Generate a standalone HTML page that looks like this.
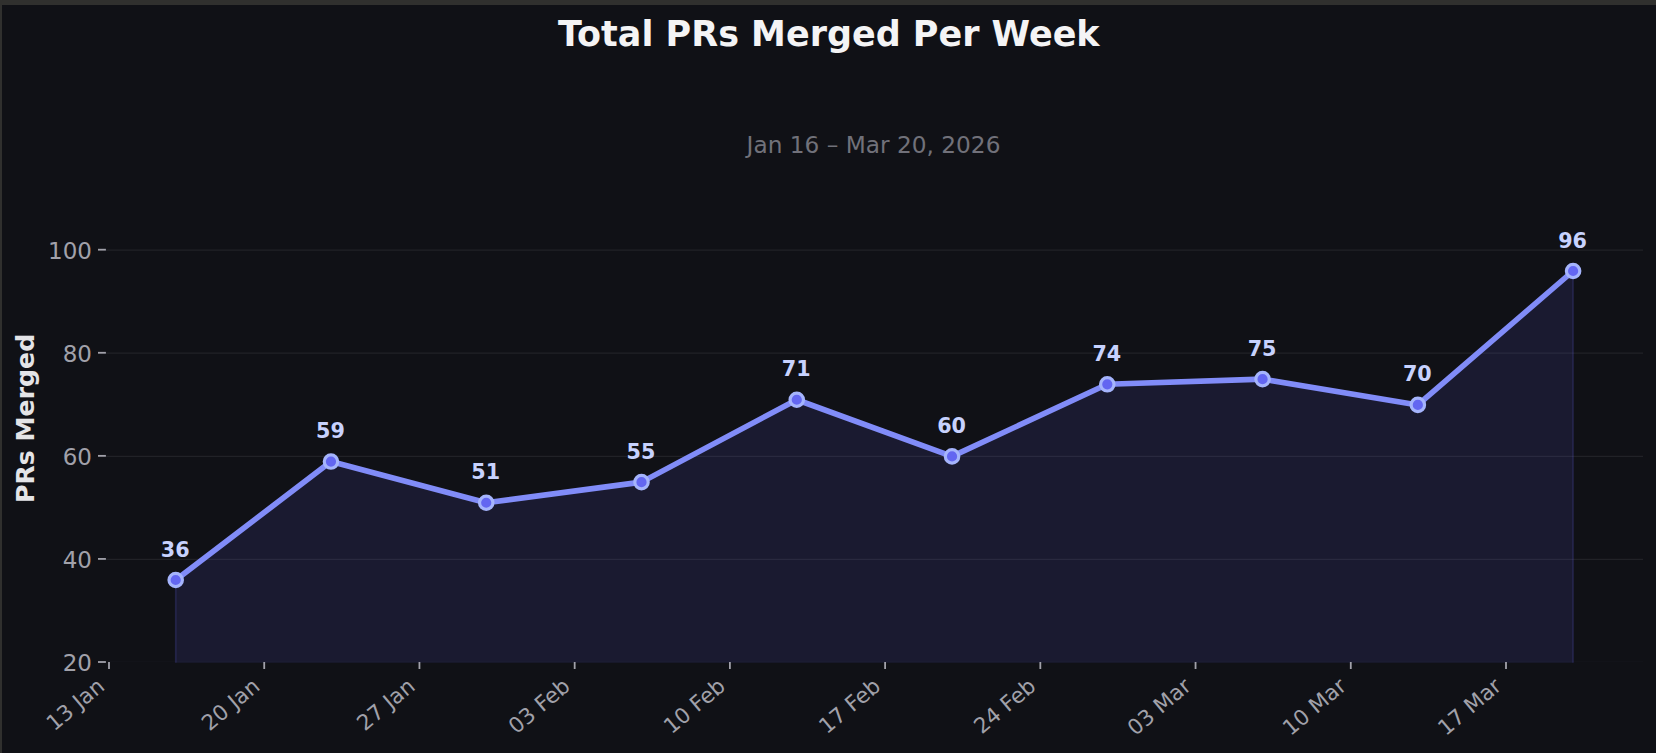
<!DOCTYPE html>
<html lang="en"><head><meta charset="utf-8"><title>Total PRs Merged Per Week</title>
<style>
html,body{margin:0;padding:0;background:#101116;overflow:hidden}
body{width:1656px;height:753px;position:relative}
svg{position:absolute;left:0;top:0;display:block}
text{font-family:"DejaVu Sans","Liberation Sans",sans-serif}
.b{font-weight:bold}
</style></head><body>
<svg width="1656" height="753" viewBox="0 0 1656 753">
<rect x="0" y="0" width="1656" height="753" fill="#101116"/>

<g stroke="#212227" stroke-width="1.2">
<line x1="105.8" x2="1643.0" y1="559.38" y2="559.38"/>
<line x1="105.8" x2="1643.0" y1="456.30" y2="456.30"/>
<line x1="105.8" x2="1643.0" y1="353.22" y2="353.22"/>
<line x1="105.8" x2="1643.0" y1="250.15" y2="250.15"/>
</g>
<rect x="105.8" y="661.10" width="1537.2" height="0.9" fill="#212227" opacity="0.22"/>
<polygon points="175.70,662.80 175.70,580.00 330.97,461.55 486.23,502.75 641.50,482.15 796.77,399.75 952.04,456.40 1107.30,384.30 1262.57,379.15 1417.84,404.90 1573.10,271.00 1573.10,662.80" fill="#6366f1" fill-opacity="0.12"/>
<path d="M175.70,662.80V580.00M1573.10,662.80V271.00" fill="none" stroke="#6366f1" stroke-opacity="0.2" stroke-width="1.6"/>
<polyline points="175.70,580.00 330.97,461.55 486.23,502.75 641.50,482.15 796.77,399.75 952.04,456.40 1107.30,384.30 1262.57,379.15 1417.84,404.90 1573.10,271.00" fill="none" stroke="#818cf8" stroke-width="5.6" stroke-linejoin="round" stroke-linecap="round"/>
<g fill="#6366f1" stroke="#a5b4fc" stroke-width="3.2">
<circle cx="175.70" cy="580.00" r="6.7"/>
<circle cx="330.97" cy="461.55" r="6.7"/>
<circle cx="486.23" cy="502.75" r="6.7"/>
<circle cx="641.50" cy="482.15" r="6.7"/>
<circle cx="796.77" cy="399.75" r="6.7"/>
<circle cx="952.04" cy="456.40" r="6.7"/>
<circle cx="1107.30" cy="384.30" r="6.7"/>
<circle cx="1262.57" cy="379.15" r="6.7"/>
<circle cx="1417.84" cy="404.90" r="6.7"/>
<circle cx="1573.10" cy="271.00" r="6.7"/>
</g>
<g class="b" fill="#c7d2fe" font-size="20.7" text-anchor="middle">
<text x="175.20" y="556.50">36</text>
<text x="330.47" y="438.05">59</text>
<text x="485.73" y="479.25">51</text>
<text x="641.00" y="458.65">55</text>
<text x="796.27" y="376.25">71</text>
<text x="951.54" y="432.90">60</text>
<text x="1106.80" y="360.80">74</text>
<text x="1262.07" y="355.65">75</text>
<text x="1417.34" y="381.40">70</text>
<text x="1572.60" y="247.50">96</text>
</g>
<g fill="#a1a1aa">
<rect x="98" y="661.10" width="7.9" height="1.8"/>
<rect x="98" y="558.02" width="7.9" height="1.8"/>
<rect x="98" y="454.95" width="7.9" height="1.8"/>
<rect x="98" y="351.88" width="7.9" height="1.8"/>
<rect x="98" y="248.80" width="7.9" height="1.8"/>
<rect x="108.10" y="662" width="1.8" height="7.0"/>
<rect x="263.32" y="662" width="1.8" height="7.0"/>
<rect x="418.54" y="662" width="1.8" height="7.0"/>
<rect x="573.77" y="662" width="1.8" height="7.0"/>
<rect x="728.99" y="662" width="1.8" height="7.0"/>
<rect x="884.21" y="662" width="1.8" height="7.0"/>
<rect x="1039.43" y="662" width="1.8" height="7.0"/>
<rect x="1194.65" y="662" width="1.8" height="7.0"/>
<rect x="1349.88" y="662" width="1.8" height="7.0"/>
<rect x="1505.10" y="662" width="1.8" height="7.0"/>
</g>
<g fill="#a1a1aa" font-size="23.0" text-anchor="end">
<text transform="translate(91.9,671.20) scale(1,1.02)">20</text>
<text transform="translate(91.9,568.12) scale(1,1.02)">40</text>
<text transform="translate(91.9,465.05) scale(1,1.02)">60</text>
<text transform="translate(91.9,361.97) scale(1,1.02)">80</text>
<text transform="translate(91.9,258.90) scale(1,1.02)">100</text>
</g>
<g fill="#a1a1aa" font-size="21.5" text-anchor="end">
<text transform="translate(105.90,688.40) rotate(-40)">13 Jan</text>
<text transform="translate(261.12,688.40) rotate(-40)">20 Jan</text>
<text transform="translate(416.34,688.40) rotate(-40)">27 Jan</text>
<text transform="translate(571.57,688.40) rotate(-40)">03 Feb</text>
<text transform="translate(726.79,688.40) rotate(-40)">10 Feb</text>
<text transform="translate(882.01,688.40) rotate(-40)">17 Feb</text>
<text transform="translate(1037.23,688.40) rotate(-40)">24 Feb</text>
<text transform="translate(1192.45,688.40) rotate(-40)">03 Mar</text>
<text transform="translate(1347.68,688.40) rotate(-40)">10 Mar</text>
<text transform="translate(1502.90,688.40) rotate(-40)">17 Mar</text>
</g>
<text class="b" fill="#e4e4e7" font-size="25.18" text-anchor="middle" transform="translate(33.9,418.4) rotate(-90)">PRs Merged</text>
<text fill="#71717a" font-size="23.24" text-anchor="middle" x="873.5" y="153.0">Jan 16 – Mar 20, 2026</text>
<text class="b" fill="#f4f4f5" font-size="34.97" text-anchor="middle" x="828.75" y="45.5">Total PRs Merged Per Week</text>
<rect x="0" y="0" width="1656" height="5" fill="#30302e"/>
<rect x="0" y="0" width="2" height="753" fill="#30302e"/>
</svg></body></html>
